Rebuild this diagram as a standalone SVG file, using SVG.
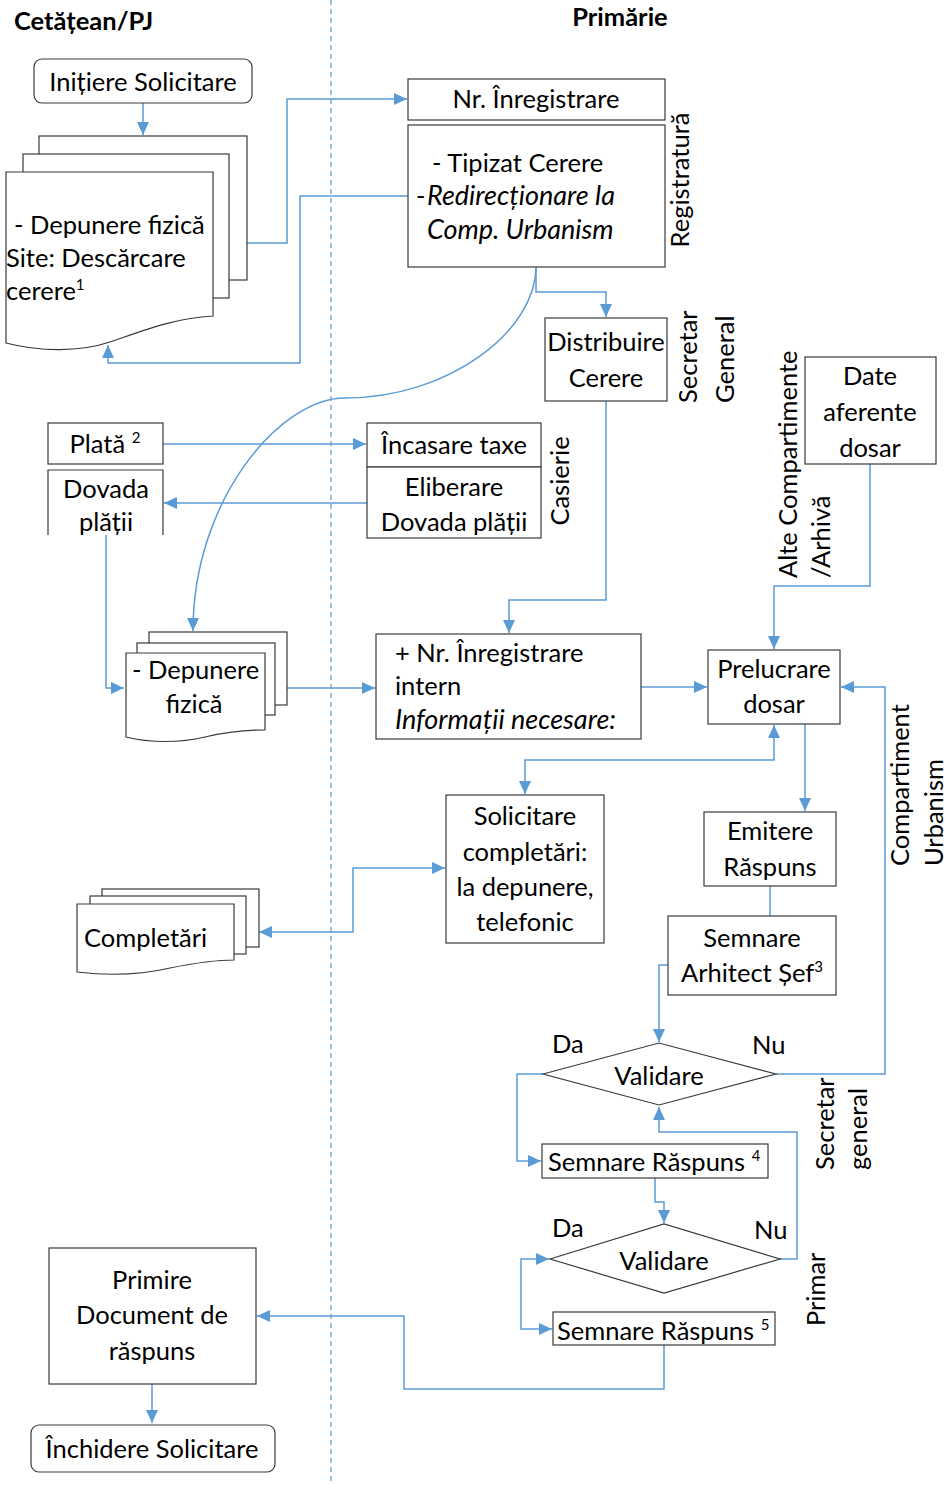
<svg xmlns="http://www.w3.org/2000/svg" width="948" height="1485" viewBox="0 0 948 1485">
<style>
text{font-family:Lato,"Liberation Sans",sans-serif;font-size:25.5px;fill:#000}
.c{text-anchor:middle}
.b{font-weight:bold;font-size:25.5px}
.i{font-style:italic;font-size:27px}
.sup{font-size:15px}
.box{fill:#fff;stroke:#3a3a3a;stroke-width:1.2}
.ln{fill:none;stroke:#5b9bd5;stroke-width:1.5}
</style>
<defs>
<marker id="a" viewBox="0 0 13 12" refX="13" refY="6" markerWidth="13" markerHeight="12" markerUnits="userSpaceOnUse" orient="auto-start-reverse">
<path d="M0,0 L13,6 L0,12 z" fill="#5b9bd5"/>
</marker>
</defs>
<rect width="948" height="1485" fill="#fff"/>
<g id="lanes">
<line x1="331" y1="0" x2="331" y2="1485" stroke="#5b9bd5" stroke-width="1.2" stroke-dasharray="5,4"/>
<text class="b" x="14" y="30">Cetățean/PJ</text>
<text class="b c" x="620" y="26">Primărie</text>
</g>
<g id="connectors" class="ln">
<path class="ln" d="M143,103 V135" marker-end="url(#a)"/>
<path class="ln" d="M247,243 H287 V99 H407" marker-end="url(#a)"/>
<path class="ln" d="M408,196 H300 V363 H108 V345" marker-end="url(#a)"/>
<path class="ln" d="M536,267 V292 H606 V317" marker-end="url(#a)"/>
<path class="ln" d="M536,267 C536,330 450,398 345,398 C280,398 193,500 193,631" marker-end="url(#a)"/>
<path class="ln" d="M606,401 V600 H509 V633" marker-end="url(#a)"/>
<path class="ln" d="M870,464 V586 H774 V649" marker-end="url(#a)"/>
<path class="ln" d="M163,444 H366" marker-end="url(#a)"/>
<path class="ln" d="M367,503 H164" marker-end="url(#a)"/>
<path class="ln" d="M106,535 V688 H124" marker-end="url(#a)"/>
<path class="ln" d="M287,688 H375" marker-end="url(#a)"/>
<path class="ln" d="M641,687 H707" marker-end="url(#a)"/>
<path class="ln" d="M525,794 V760 H774 V725" marker-start="url(#a)" marker-end="url(#a)"/>
<path class="ln" d="M805,724 V811" marker-end="url(#a)"/>
<path class="ln" d="M776,1074 H885 V687 H841" marker-end="url(#a)"/>
<path class="ln" d="M445,868 H353 V932 H259" marker-start="url(#a)" marker-end="url(#a)"/>
<path class="ln" d="M770,886 V916"/>
<path class="ln" d="M668,965 H659 V1042" marker-end="url(#a)"/>
<path class="ln" d="M543,1074 H517 V1161 H541" marker-end="url(#a)"/>
<path class="ln" d="M655,1178 V1202 H664 V1223" marker-end="url(#a)"/>
<path class="ln" d="M780,1259 H797 V1132 H659 V1107" marker-end="url(#a)"/>
<path class="ln" d="M549,1259 H521 V1329 H552" marker-start="url(#a)" marker-end="url(#a)"/>
<path class="ln" d="M664,1345 V1389 H404 V1316 H257" marker-end="url(#a)"/>
<path class="ln" d="M152,1384 V1423" marker-end="url(#a)"/>
</g>
<g id="n-initiere">
<rect class="box" x="34" y="59" width="218" height="44" rx="8"/>
<text class="c" x="143" y="91">Inițiere Solicitare</text>
</g>
<g id="n-depunere1">
<rect class="box" x="39" y="136" width="208" height="144"/>
<rect class="box" x="23" y="154" width="206" height="144"/>
<path class="box" d="M6,172 H213 V316 C175,318 145,330 110,342 C80,352 40,352 6,343 Z"/>
<text x="14" y="234">- Depunere fizică</text>
<text x="6" y="267">Site: Descărcare</text>
<text x="6" y="300">cerere<tspan class="sup" dy="-10">1</tspan></text>
</g>
<g id="n-nrinreg">
<rect class="box" x="408" y="79" width="257" height="41"/>
<text class="c" x="536" y="108">Nr. Înregistrare</text>
</g>
<g id="n-tipizat">
<rect class="box" x="408" y="125" width="257" height="142"/>
<text x="432" y="172">- Tipizat Cerere</text>
<text x="416" y="205">-<tspan class="i" x="427">Redirecționare la</tspan></text>
<text class="i" x="427" y="239">Comp. Urbanism</text>
<text class="c" transform="translate(689,180) rotate(-90)">Registratură</text>
</g>
<g id="n-distribuire">
<rect class="box" x="545" y="318" width="122" height="83"/>
<text class="c" x="606" y="351">Distribuire</text>
<text class="c" x="606" y="387">Cerere</text>
<text transform="translate(697,403) rotate(-90)">Secretar</text>
<text transform="translate(734,403) rotate(-90)">General</text>
</g>
<g id="n-date">
<rect class="box" x="805" y="357" width="131" height="107"/>
<text class="c" x="870" y="385">Date</text>
<text class="c" x="870" y="421">aferente</text>
<text class="c" x="870" y="457">dosar</text>
<text transform="translate(797,578) rotate(-90)">Alte Compartimente</text>
<text transform="translate(830,578) rotate(-90)">/Arhivă</text>
</g>
<g id="n-plata">
<rect class="box" x="48" y="423" width="115" height="41"/>
<text class="c" x="105" y="453">Plată <tspan class="sup" dy="-10">2</tspan></text>
</g>
<g id="n-dovada">
<path class="box" d="M48,535 V470 H163 V535"/>
<text class="c" x="106" y="498">Dovada</text>
<text class="c" x="106" y="531">plății</text>
</g>
<g id="n-casierie">
<rect class="box" x="367" y="423" width="174" height="44"/>
<text class="c" x="454" y="454">Încasare taxe</text>
<rect class="box" x="367" y="467" width="174" height="71"/>
<text class="c" x="454" y="496">Eliberare</text>
<text class="c" x="454" y="531">Dovada plății</text>
<text class="c" transform="translate(569,481) rotate(-90)">Casierie</text>
</g>
<g id="n-depunere2">
<rect class="box" x="149" y="632" width="138" height="73"/>
<rect class="box" x="137" y="643" width="138" height="72"/>
<path class="box" d="M126,653 H265 V730 C250,730 230,731 205,737 C180,743 150,743 126,737 Z"/>
<text x="132" y="679">- Depunere</text>
<text class="c" x="194" y="713">fizică</text>
</g>
<g id="n-nrintern">
<rect class="box" x="376" y="634" width="265" height="105"/>
<text x="395" y="662">+ Nr. Înregistrare</text>
<text x="395" y="695">intern</text>
<text class="i" x="395" y="729">Informații necesare:</text>
</g>
<g id="n-prelucrare">
<rect class="box" x="708" y="650" width="132" height="74"/>
<text class="c" x="774" y="678">Prelucrare</text>
<text class="c" x="774" y="713">dosar</text>
<text transform="translate(909,866) rotate(-90)">Compartiment</text>
<text transform="translate(943,866) rotate(-90)">Urbanism</text>
</g>
<g id="n-solicitare">
<rect class="box" x="446" y="795" width="158" height="148"/>
<text class="c" x="525" y="825">Solicitare</text>
<text class="c" x="525" y="861">completări:</text>
<text class="c" x="525" y="896">la depunere,</text>
<text class="c" x="525" y="931">telefonic</text>
</g>
<g id="n-completari">
<rect class="box" x="102" y="889" width="157" height="58"/>
<rect class="box" x="90" y="896" width="156" height="58"/>
<path class="box" d="M77,904 H234 V960 C215,960 195,963 170,968 C140,975 110,976 77,972 Z"/>
<text x="84" y="947">Completări</text>
</g>
<g id="n-emitere">
<rect class="box" x="704" y="812" width="132" height="74"/>
<text class="c" x="770" y="840">Emitere</text>
<text class="c" x="770" y="876">Răspuns</text>
</g>
<g id="n-semnare-arh">
<rect class="box" x="668" y="916" width="168" height="79"/>
<text class="c" x="752" y="947">Semnare</text>
<text class="c" x="752" y="982">Arhitect Șef<tspan class="sup" dy="-10">3</tspan></text>
</g>
<g id="n-validare1">
<path class="box" d="M543,1074 L659,1043 L776,1074 L659,1105 Z"/>
<text class="c" x="659" y="1085">Validare</text>
<text x="552" y="1053">Da</text>
<text x="752" y="1054">Nu</text>
<text transform="translate(834,1170) rotate(-90)">Secretar</text>
<text transform="translate(867,1170) rotate(-90)">general</text>
</g>
<g id="n-semnare4">
<rect class="box" x="542" y="1144" width="226" height="34"/>
<text x="548" y="1171">Semnare Răspuns <tspan class="sup" dy="-10">4</tspan></text>
</g>
<g id="n-validare2">
<path class="box" d="M550,1259 L664,1224 L780,1259 L664,1293 Z"/>
<text class="c" x="664" y="1270">Validare</text>
<text x="552" y="1237">Da</text>
<text x="754" y="1239">Nu</text>
<text transform="translate(825,1326) rotate(-90)">Primar</text>
</g>
<g id="n-semnare5">
<rect class="box" x="553" y="1312" width="222" height="33"/>
<text x="557" y="1340">Semnare Răspuns <tspan class="sup" dy="-10">5</tspan></text>
</g>
<g id="n-primire">
<rect class="box" x="49" y="1248" width="207" height="136"/>
<text class="c" x="152" y="1289">Primire</text>
<text class="c" x="152" y="1324">Document de</text>
<text class="c" x="152" y="1360">răspuns</text>
</g>
<g id="n-inchidere">
<rect class="box" x="31" y="1425" width="244" height="47" rx="8"/>
<text class="c" x="152" y="1458">Închidere Solicitare</text>
</g>
</svg>
